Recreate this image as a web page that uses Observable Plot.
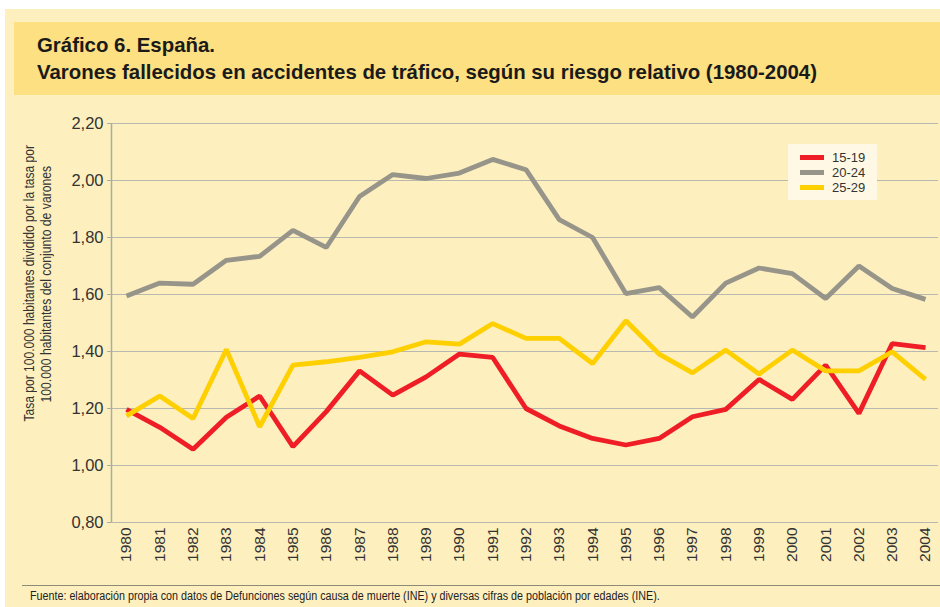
<!DOCTYPE html>
<html>
<head>
<meta charset="utf-8">
<script src="https://cdn.jsdelivr.net/npm/d3@7"></script>
<script src="https://cdn.jsdelivr.net/npm/@observablehq/plot@0.6"></script>
<style>
  html, body { margin: 0; padding: 0; background: #ffffff; width: 940px; height: 607px; overflow: hidden; }
  #panel { position: absolute; left: 5px; top: 9px; width: 935px; height: 598px; background: #FDEFBE; }
  #band { position: absolute; left: 14px; top: 22px; width: 926px; height: 73px; background: #FDE081; }
  .fit { position: absolute; white-space: nowrap; transform-origin: 0 0; display: inline-block; }
  .t { font-family: "Liberation Sans", sans-serif; font-size: 21px; font-weight: bold; color: #1a1a1a; }
  #chart { position: absolute; left: 0; top: 110px; }
  #ylabelWrap { position: absolute; left: 38px; top: 284px; width: 0; height: 0; }
  #ylabel { position: absolute; left: -160px; top: -17px; width: 320px; height: 34px; transform: rotate(-90deg); transform-origin: 50% 50%; font-family: "Liberation Sans", sans-serif; font-size: 14px; color: #333; }
  #ylabel .ln { display: block; width: 320px; height: 17px; line-height: 17px; text-align: center; white-space: nowrap; }
  #ylabel .in { display: inline-block; transform-origin: 50% 50%; }
  #legend { position: absolute; left: 788px; top: 144px; width: 89px; height: 56px; background: #FEF8E4; font-family: "Liberation Sans", sans-serif; font-size: 13px; color: #333; }
  .li { position: absolute; left: 12px; height: 15px; line-height: 15px; }
  .sw { display: inline-block; width: 24px; height: 5px; vertical-align: middle; margin-right: 8px; position: relative; top: -1px; }
  #rule { position: absolute; left: 22px; top: 585px; width: 918px; height: 1px; background: #8d8a78; }
  .src { font-family: "Liberation Sans", sans-serif; font-size: 12px; color: #222; }
</style>
</head>
<body>
<div id="panel"></div>
<div id="band"></div>
<span class="fit t" id="t1" style="left:37px; top:33px;">Gráfico 6. España.</span>
<span class="fit t" id="t2" style="left:37px; top:60px;">Varones fallecidos en accidentes de tráfico, según su riesgo relativo (1980-2004)</span>
<div id="chart"></div>
<div id="ylabelWrap"><div id="ylabel">
  <div class="ln"><span class="in" id="yl1">Tasa por 100.000 habitantes dividido por la tasa por</span></div>
  <div class="ln"><span class="in" id="yl2">100.000 habitantes del conjunto de varones</span></div>
</div></div>
<div id="legend"></div>
<div id="rule"></div>
<span class="fit src" id="src" style="left:30px; top:589px;">Fuente: elaboración propia con datos de Defunciones según causa de muerte (INE) y diversas cifras de población por edades (INE).</span>
<script>
const years = [1980,1981,1982,1983,1984,1985,1986,1987,1988,1989,1990,1991,1992,1993,1994,1995,1996,1997,1998,1999,2000,2001,2002,2003,2004];
const seriesNames = ["15-19", "20-24", "25-29"];
const seriesColors = ["#EE1D26", "#97958A", "#FFD000"];
const v15_19 = [1.197,1.134,1.057,1.169,1.244,1.066,1.189,1.332,1.247,1.311,1.391,1.379,1.200,1.139,1.095,1.072,1.095,1.171,1.197,1.302,1.232,1.352,1.183,1.428,1.414];
const v20_24 = [1.595,1.640,1.636,1.720,1.734,1.825,1.765,1.944,2.021,2.007,2.026,2.074,2.038,1.863,1.800,1.603,1.624,1.521,1.640,1.693,1.673,1.586,1.700,1.621,1.583];
const v25_29 = [1.174,1.244,1.165,1.407,1.136,1.352,1.364,1.379,1.399,1.434,1.426,1.498,1.446,1.446,1.358,1.508,1.391,1.325,1.405,1.321,1.405,1.332,1.332,1.399,1.302];
const yTicks = [0.8,1.0,1.2,1.4,1.6,1.8,2.0,2.2];

const seriesValues = [v15_19, v20_24, v25_29];
const data = [];
seriesNames.forEach((s, i) => years.forEach((y, j) => data.push({year: y, value: seriesValues[i][j], serie: s})));

const plot = Plot.plot({
  width: 940,
  height: 460,
  marginLeft: 111,
  marginRight: 2,
  marginTop: 13,
  marginBottom: 48,
  style: { background: "transparent", fontFamily: "Liberation Sans, sans-serif", fontSize: "15px", color: "#333" },
  x: { type: "linear", domain: [1979.55, 2004.39], label: null },
  y: { domain: [0.8, 2.2], label: null },
  color: { domain: seriesNames, range: seriesColors },
  marks: [
    Plot.gridY(yTicks, { stroke: "#B9B8B0", strokeOpacity: 1, strokeWidth: 1.2 }),
    Plot.ruleX([1979.55], { stroke: "#ABABA6", strokeWidth: 1.5 }),
    Plot.axisX({ ticks: years, tickFormat: d => String(d), tickRotate: -90, tickSize: 0, tickPadding: 5, fill: "#333", fontSize: 15.5 }),
    Plot.axisY({ ticks: yTicks, tickFormat: d => d.toFixed(2).replace(".", ","), tickSize: 4, tickPadding: 4, stroke: "#ABABA6", fill: "#333", fontSize: 16.5 }),
    Plot.line(data, { x: "year", y: "value", z: "serie", stroke: "serie", strokeWidth: 4.8, strokeLinejoin: "miter", strokeLinecap: "butt" })
  ]
});
document.getElementById("chart").appendChild(plot);

const legend = document.getElementById("legend");
seriesNames.forEach((s, i) => {
  const d = document.createElement("div");
  d.className = "li";
  d.style.top = (6 + i * 15) + "px";
  d.innerHTML = `<span class="sw" style="background:${seriesColors[i]}"></span>${s}`;
  legend.appendChild(d);
});

// condense text horizontally to match the narrow typeface of the original (offsetWidth ignores transforms)
function fit(id, target) {
  const el = document.getElementById(id);
  const s = target / el.offsetWidth;
  el.style.transform = `scaleX(${s})`;
  return s;
}
const s2 = fit("t2", 780);
document.getElementById("t1").style.transform = `scaleX(${s2})`;
fit("src", 630);
fit("yl1", 276);
fit("yl2", 237);
</script>
</body>
</html>
